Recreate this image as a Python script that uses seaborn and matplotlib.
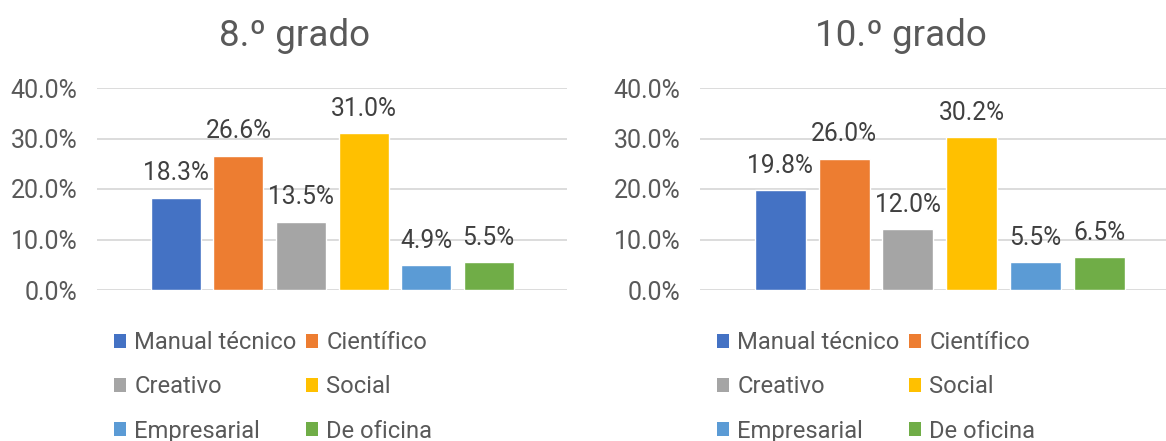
import matplotlib
matplotlib.use("Agg")
import matplotlib.pyplot as plt
import matplotlib.patches as mpatches
from matplotlib.ticker import FuncFormatter
import seaborn as sns

categorias = ["Manual técnico", "Científico", "Creativo", "Social", "Empresarial", "De oficina"]
grado_8 = [0.183, 0.266, 0.135, 0.310, 0.049, 0.055]
grado_10 = [0.198, 0.260, 0.120, 0.302, 0.055, 0.065]
colores = ["#4472C4", "#ED7D31", "#A5A5A5", "#FFC000", "#5B9BD5", "#70AD47"]
titulos = ["8.º grado", "10.º grado"]
y_ticks = [0.0, 0.1, 0.2, 0.3, 0.4]

sns.set_theme(style="white")
plt.rcParams["font.family"] = ["Roboto", "DejaVu Sans"]

W, H = 1166, 441
fig = plt.figure(figsize=(W / 100, H / 100), dpi=100)


def panel(left_px, right_px, title_x, valores, titulo):
    ax = fig.add_axes([left_px / W, (H - 290) / H, (right_px - left_px) / W, 202 / H])
    sns.barplot(x=categorias, y=valores, hue=categorias, palette=colores,
                width=0.8, legend=False, saturation=1, ax=ax)
    ax.set_xlim(-1.26, 6.25)
    ax.set_ylim(0, 0.4)
    ax.set_yticks(y_ticks)
    ax.yaxis.set_major_formatter(FuncFormatter(lambda v, p: f"{v:.1%}"))
    ax.set_xticks([])
    ax.set_xlabel("")
    ax.set_ylabel("")
    ax.grid(axis="y", color="#d9d9d9", linewidth=1.3)
    ax.set_axisbelow(True)
    for s in ax.spines.values():
        s.set_visible(False)
    ax.tick_params(axis="y", length=0, pad=14, labelsize=18, labelcolor="#595959")
    for cont, v in zip(ax.containers, valores):
        ax.bar_label(cont, labels=[f"{v:.1%}"], padding=9, fontsize=17.7, color="#404040")

    fig.text(title_x / W, (H - 46) / H, titulo, ha="center", va="baseline",
             fontsize=26.5, color="#595959")

    handles = [mpatches.Patch(facecolor=c, linewidth=0, label=l) for c, l in zip(colores, categorias)]
    orden = [0, 2, 4, 1, 3, 5]
    ax.legend([handles[i] for i in orden], [categorias[i] for i in orden],
              ncol=2, loc="upper left", bbox_to_anchor=((left_px + 17) / W, (H - 331) / H),
              bbox_transform=fig.transFigure, frameon=False, fontsize=17.1,
              labelcolor="#595959", handlelength=0.52, handleheight=0.52,
              handletextpad=0.33, columnspacing=0.4, labelspacing=0.9, borderpad=0,
              borderaxespad=0)
    return ax


panel(97, 567, 295, grado_8, titulos[0])
panel(700, 1179, 901, grado_10, titulos[1])

fig.savefig("out.png", dpi=100)
